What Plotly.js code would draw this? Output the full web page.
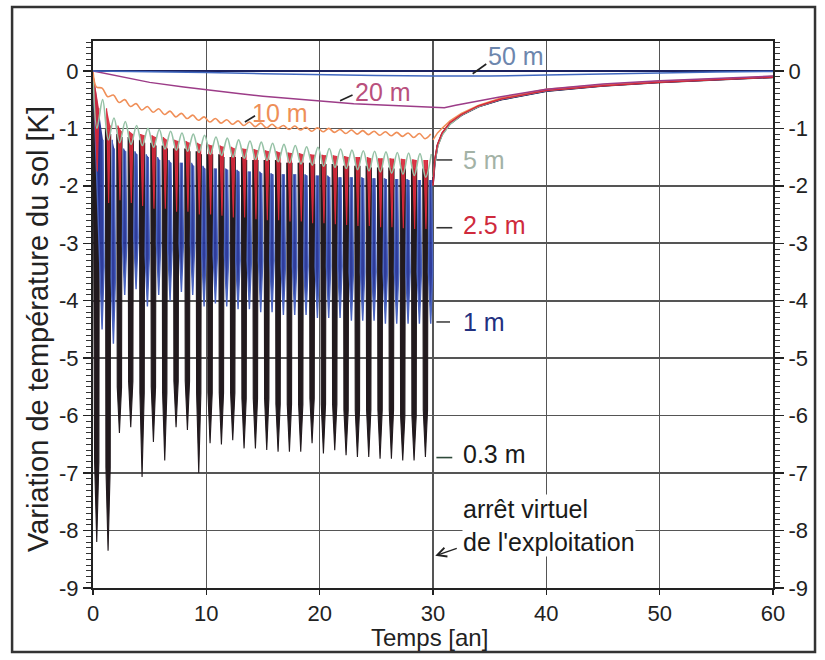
<!DOCTYPE html>
<html>
<head>
<meta charset="utf-8">
<script src="https://cdn.plot.ly/plotly-3.0.1.min.js"></script>
<style>html,body{margin:0;padding:0;background:#fff;}#chart{width:825px;height:660px;}</style>
</head>
<body>
<div id="chart"></div>
<script>
// ---- data ----
const cycleYears = [0,1,2,3,4,5,6,7,8,9,10,11,12,13,14,15,16,17,18,19,20,21,22,23,24,25,26,27,28,29];

// 0.3 m (black): annual minima, level where the dark band narrows into a thin spike, annual maxima
const trough03 = [-8.2,-8.35,-6.3,-6.2,-7.07,-6.46,-6.78,-6.2,-6.25,-7.0,-6.48,-6.5,-6.43,-6.57,-6.57,-6.6,-6.63,-6.63,-6.63,-6.48,-6.66,-6.6,-6.69,-6.72,-6.72,-6.75,-6.75,-6.78,-6.78,-6.72];
const knee03   = [-6.8,-6.9,-5.5,-5.4,-5.6,-5.5,-5.6,-5.4,-5.4,-5.6,-5.6,-5.6,-5.6,-5.7,-5.7,-5.7,-5.8,-5.8,-5.8,-5.7,-5.8,-5.8,-5.9,-5.9,-5.9,-5.9,-5.9,-6.0,-6.0,-5.9];
const peak03   = [-1.0,-1.1,-1.15,-1.2,-1.25,-1.3,-1.35,-1.35,-1.4,-1.45,-1.45,-1.5,-1.5,-1.55,-1.55,-1.55,-1.6,-1.6,-1.6,-1.62,-1.62,-1.65,-1.65,-1.65,-1.68,-1.68,-1.7,-1.7,-1.7,-1.72];
// 1 m (blue): annual minima, level where the dark blue blob starts, annual maxima
const trough1 = [-4.5,-4.75,-3.9,-3.8,-4.1,-3.9,-4.0,-3.85,-3.9,-4.1,-4.05,-4.1,-4.15,-4.15,-4.2,-4.2,-4.25,-4.25,-4.25,-4.3,-4.3,-4.3,-4.35,-4.35,-4.35,-4.4,-4.4,-4.4,-4.4,-4.4];
const knee1   = [-3.4,-3.6,-3.0,-2.9,-3.2,-3.0,-3.1,-3.0,-3.0,-3.2,-3.2,-3.2,-3.3,-3.3,-3.3,-3.3,-3.4,-3.4,-3.4,-3.4,-3.4,-3.4,-3.5,-3.5,-3.5,-3.5,-3.5,-3.5,-3.5,-3.5];
const peak1   = [-1.2,-1.35,-1.4,-1.45,-1.5,-1.55,-1.6,-1.6,-1.65,-1.7,-1.7,-1.72,-1.75,-1.75,-1.78,-1.8,-1.8,-1.8,-1.82,-1.82,-1.85,-1.85,-1.85,-1.87,-1.87,-1.88,-1.88,-1.9,-1.9,-1.9];
// 2.5 m (red)
const trough25 = [-1.75,-2.3,-2.25,-2.3,-2.35,-2.4,-2.4,-2.45,-2.45,-2.5,-2.5,-2.52,-2.55,-2.55,-2.58,-2.6,-2.6,-2.62,-2.62,-2.65,-2.65,-2.67,-2.68,-2.7,-2.7,-2.72,-2.72,-2.74,-2.75,-2.75];
const peak25   = [-0.65,-0.95,-1.05,-1.1,-1.12,-1.15,-1.2,-1.22,-1.25,-1.28,-1.3,-1.32,-1.35,-1.36,-1.38,-1.4,-1.42,-1.43,-1.45,-1.46,-1.47,-1.48,-1.5,-1.5,-1.52,-1.52,-1.53,-1.54,-1.55,-1.55];
// 5 m (grey-green)
const trough5 = [-1.0,-1.2,-1.25,-1.28,-1.3,-1.33,-1.36,-1.38,-1.4,-1.42,-1.45,-1.47,-1.5,-1.52,-1.54,-1.56,-1.58,-1.6,-1.62,-1.64,-1.66,-1.68,-1.7,-1.72,-1.74,-1.76,-1.78,-1.8,-1.82,-1.85];
const peak5   = [-0.5,-0.82,-0.88,-0.95,-1.0,-1.02,-1.05,-1.08,-1.1,-1.12,-1.15,-1.17,-1.2,-1.22,-1.24,-1.26,-1.28,-1.3,-1.32,-1.33,-1.35,-1.36,-1.38,-1.39,-1.4,-1.41,-1.42,-1.43,-1.44,-1.45];
// 10 m (orange)
const trough10 = [-0.28,-0.45,-0.55,-0.62,-0.68,-0.72,-0.76,-0.8,-0.83,-0.86,-0.89,-0.91,-0.93,-0.95,-0.97,-0.99,-1.0,-1.02,-1.03,-1.05,-1.06,-1.07,-1.09,-1.1,-1.11,-1.12,-1.13,-1.14,-1.16,-1.18];
const peak10   = [-0.3,-0.42,-0.5,-0.57,-0.62,-0.66,-0.7,-0.74,-0.77,-0.8,-0.83,-0.85,-0.87,-0.89,-0.91,-0.93,-0.95,-0.96,-0.98,-0.99,-1.0,-1.02,-1.03,-1.04,-1.05,-1.06,-1.07,-1.08,-1.09,-1.1];

// recovery after shutdown (t >= 30)
const recX   = [30,30.15,30.4,30.8,31.5,32.5,34,36,40,45,50,55,60];
const rec03  = [-1.95,-1.6,-1.3,-1.1,-0.92,-0.77,-0.62,-0.5,-0.35,-0.26,-0.2,-0.15,-0.11];
const rec1   = [-1.95,-1.6,-1.3,-1.1,-0.92,-0.77,-0.62,-0.5,-0.35,-0.26,-0.2,-0.15,-0.11];
const rec25  = [-2.0,-1.55,-1.28,-1.08,-0.9,-0.76,-0.61,-0.49,-0.34,-0.26,-0.2,-0.15,-0.11];
const rec5   = [-1.85,-1.6,-1.32,-1.12,-0.93,-0.77,-0.62,-0.49,-0.34,-0.25,-0.19,-0.14,-0.1];
const rec10  = [-1.2,-1.15,-1.08,-1.0,-0.87,-0.74,-0.6,-0.47,-0.32,-0.24,-0.18,-0.14,-0.1];

// 20 m (purple)
const x20 = [0,2,5,8,10,13,15,18,20,23,25,28,30,31,32,34,36,40,45,50,55,60];
const y20 = [0,-0.08,-0.2,-0.28,-0.33,-0.4,-0.44,-0.49,-0.53,-0.57,-0.59,-0.62,-0.63,-0.64,-0.6,-0.52,-0.45,-0.32,-0.23,-0.17,-0.13,-0.09];
// 50 m (blue)
const x50 = [0,5,10,15,20,25,30,35,40,45,50,55,60];
const y50 = [0,-0.01,-0.03,-0.05,-0.07,-0.08,-0.09,-0.09,-0.07,-0.05,-0.03,-0.02,-0.01];

// axis ticks
const xTickVals = [0,10,20,30,40,50,60];
const xTickText = ["0","10","20","30","40","50","60"];
const yTickVals = [-9,-8,-7,-6,-5,-4,-3,-2,-1,0];
const yTickText = ["-9","-8","-7","-6","-5","-4","-3","-2","-1","0"];

// ---- build traces ----
// one spike per year: leave previous peak at k+ph.s, (knee at k+ph.a), trough at k+ph.t, (knee at k+ph.b), peak at k+ph.r
function spikes(troughs, peaks, knees, ph) {
  const fx = [0], fy = [0], ex = [0], ey = [0], lx = [0], ly = [0];
  const n = cycleYears.length;
  for (let k = 0; k < n; k++) {
    const yr = cycleYears[k];
    if (k > 0) {
      fx.push(yr + ph.s); fy.push(peaks[k - 1]);
      ex.push(yr + ph.s); ey.push(peaks[k - 1]);
      lx.push(yr + ph.s); ly.push(peaks[k - 1]);
    }
    const pts = [];
    if (knees) pts.push([yr + ph.a, knees[k]]);
    pts.push([yr + ph.t, troughs[k]]);
    if (knees) pts.push([yr + ph.b, knees[k]]);
    pts.push([yr + ph.r, peaks[k]]);
    pts.forEach(p => { fx.push(p[0]); fy.push(p[1]); lx.push(p[0]); ly.push(p[1]); });
    ex.push(yr + ph.r); ey.push(peaks[k]);
    lx.push(null); ly.push(null);
  }
  return {fx, fy, ex, ey, lx, ly};
}
function filledSpikes(troughs, peaks, knees, ph, color, fill, w) {
  const d = spikes(troughs, peaks, knees, ph);
  return [
    {x: d.ex, y: d.ey, mode: 'lines', line: {width: 0, color: color, simplify: false}, hoverinfo: 'skip'},
    {x: d.fx, y: d.fy, mode: 'lines', line: {width: 0, color: color, simplify: false}, fill: 'tonexty', fillcolor: fill, hoverinfo: 'skip'},
    {x: d.lx, y: d.ly, mode: 'lines', connectgaps: false, line: {width: w, color: color, simplify: false}, hoverinfo: 'skip'}
  ];
}
function wave(troughs, peaks, t, p) {
  const x = [0], y = [0];
  for (let k = 0; k < cycleYears.length; k++) {
    x.push(cycleYears[k] + t); y.push(troughs[k]);
    x.push(cycleYears[k] + p); y.push(peaks[k]);
  }
  return {x, y};
}
function line(x, y, color, w, shape) {
  return {x, y, mode: 'lines', line: {color: color, width: w, shape: shape || 'linear', smoothing: 1}, hoverinfo: 'skip'};
}

const cBlack = '#221a1e', cBlue = '#2a3aa0', cMidBlue = '#4a64c0', cRed = '#d6283a', cGreen = '#96c2a6', cOrange = '#f08f58', cPurple = '#9c3c88', c50 = '#4068c0';

const w5 = wave(trough5, peak5, 0.35, 0.85);
const w10 = wave(trough10, peak10, 0.3, 0.8);

const traces = [].concat(
  filledSpikes(trough03, peak03, knee03, {s: 0.1, a: 0.14, t: 0.33, b: 0.52, r: 0.56}, cBlack, '#221a1e', 1.1),
  filledSpikes(trough1, peak1, knee1, {s: 0.7, a: 0.6, t: 0.8, b: 0.98, r: 0.88}, cMidBlue, 'rgba(36,50,150,0.95)', 1.4),
  filledSpikes(trough25, peak25, null, {s: 0.2, t: 0.38, r: 0.52}, cRed, 'rgba(214,40,58,0.92)', 1.1),
  [
    line(recX, rec03, cBlack, 2),
    line(recX, rec1, cBlue, 1.5),
    line(recX, rec5, cGreen, 1.5),
    line(recX, rec10, cOrange, 1.5),
    line(recX, rec25, cRed, 1.5),
    line(w5.x, w5.y, cGreen, 1.6, 'spline'),
    line(w10.x, w10.y, cOrange, 1.6, 'spline'),
    line(x20, y20, cPurple, 1.5),
    line(x50, y50, c50, 1.5),
    {x: [0], y: [0], yaxis: 'y2', mode: 'markers', marker: {opacity: 0}, hoverinfo: 'skip'}
  ]
);

const font = 'Liberation Sans, Arial, sans-serif';
const gridC = '#555555';

const layout = {
  width: 825, height: 660,
  margin: {l: 93, r: 52, t: 41, b: 72},
  paper_bgcolor: '#ffffff', plot_bgcolor: '#ffffff',
  showlegend: false,
  font: {family: font, size: 22, color: '#222'},
  xaxis: {
    range: [0, 60], tickvals: xTickVals, ticktext: xTickText,
    ticks: 'outside', ticklen: 5, tickwidth: 1.5, tickcolor: '#222',
    showline: true, linecolor: '#222', linewidth: 2, mirror: true,
    showgrid: true, gridcolor: gridC, gridwidth: 1.6, zeroline: false
  },
  yaxis: {
    range: [-9, 0.52], tickvals: yTickVals, ticktext: yTickText,
    ticks: 'outside', ticklen: 8, tickwidth: 1.5, tickcolor: '#222',
    minor: {dtick: 0.1, ticks: 'outside', ticklen: 5, tickwidth: 1, tickcolor: '#333', showgrid: false},
    showline: true, linecolor: '#222', linewidth: 2,
    showgrid: true, gridcolor: gridC, gridwidth: 1.6,
    zeroline: true, zerolinecolor: '#1c2260', zerolinewidth: 2
  },
  yaxis2: {
    overlaying: 'y', side: 'right', anchor: 'x',
    range: [-9, 0.52], tickvals: yTickVals, ticktext: yTickText,
    ticks: 'outside', ticklen: 9, tickwidth: 1.5, tickcolor: '#222',
    minor: {dtick: 0.1, ticks: 'outside', ticklen: 5, tickwidth: 1, tickcolor: '#333', showgrid: false},
    showline: true, linecolor: '#222', linewidth: 2,
    showgrid: false, zeroline: false
  },
  shapes: [
    {type: 'rect', xref: 'paper', yref: 'paper', x0: -0.119, x1: 1.0618, y0: -0.117, y1: 1.0622, line: {color: '#333', width: 2.5}},
    {type: 'line', x0: 33.5, y0: -0.05, x1: 34.7, y1: 0.12, line: {color: '#222', width: 1.6}},
    {type: 'line', x0: 21.8, y0: -0.52, x1: 22.9, y1: -0.42, line: {color: '#222', width: 1.6}},
    {type: 'line', x0: 13.4, y0: -0.89, x1: 14.3, y1: -0.78, line: {color: '#222', width: 1.6}},
    {type: 'line', x0: 30.3, y0: -1.55, x1: 31.7, y1: -1.55, line: {color: '#444', width: 1.6}},
    {type: 'line', x0: 30.3, y0: -2.73, x1: 31.7, y1: -2.73, line: {color: '#333', width: 1.6}},
    {type: 'line', x0: 30.3, y0: -4.37, x1: 31.5, y1: -4.37, line: {color: '#444', width: 1.6}},
    {type: 'line', x0: 30.3, y0: -6.73, x1: 31.7, y1: -6.73, line: {color: '#2f4a3a', width: 1.6}}
  ],
  annotations: [
    {xref: 'paper', yref: 'paper', x: 0.495, y: -0.0905, yanchor: 'middle', text: 'Temps [an]', showarrow: false, font: {size: 24, color: '#222'}},
    {xref: 'paper', yref: 'paper', x: -0.0809, y: 0.4735, xanchor: 'center', yanchor: 'middle', textangle: -90, text: 'Variation de température du sol [K]', showarrow: false, font: {size: 29, color: '#222'}},
    {x: 37.3, y: 0.26, text: '50 m', showarrow: false, font: {size: 25, color: '#6d86ad'}},
    {x: 25.6, y: -0.37, text: '20 m', showarrow: false, font: {size: 25, color: '#b9507d'}},
    {x: 16.5, y: -0.73, text: '10 m', showarrow: false, font: {size: 25, color: '#ee8f58'}},
    {x: 32.5, y: -1.55, xanchor: 'left', text: '5 m', showarrow: false, font: {size: 25, color: '#a3b2a6'}},
    {x: 32.5, y: -2.68, xanchor: 'left', text: '2.5 m', showarrow: false, font: {size: 25, color: '#cf2a3c'}},
    {x: 32.5, y: -4.37, xanchor: 'left', text: '1 m', showarrow: false, font: {size: 25, color: '#22307f'}},
    {x: 32.5, y: -6.66, xanchor: 'left', text: '0.3 m', showarrow: false, font: {size: 25, color: '#1a1a1a'}},
    {x: 32.55, y: -7.91, xanchor: 'left', align: 'left', text: "arrêt virtuel<br>de l'exploitation", showarrow: false, bgcolor: '#ffffff', borderpad: 0, font: {size: 25, color: '#1a1a1a'}},
    {x: 30.2, y: -8.44, ax: 23, ay: -8, text: '', showarrow: true, arrowhead: 5, arrowsize: 1.4, arrowwidth: 1.3, arrowcolor: '#222'}
  ]
};

Plotly.newPlot('chart', traces, layout, {displayModeBar: false, staticPlot: true});
</script>
</body>
</html>
